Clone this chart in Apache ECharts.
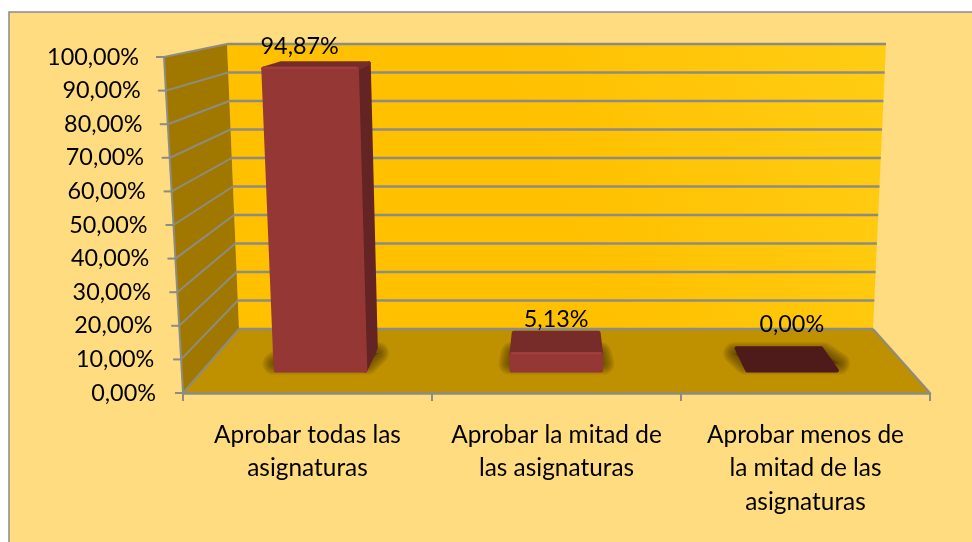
<!DOCTYPE html>
<html>
<head>
<meta charset="utf-8">
<style>
  html, body { margin: 0; padding: 0; background: #fff; }
  #chart { width: 972px; height: 542px; }
</style>
<script src="https://cdn.jsdelivr.net/npm/echarts@6/dist/echarts.min.js"></script>
</head>
<body>
<div id="chart"></div>
<script>
const categories = [
  'Aprobar todas las\nasignaturas',
  'Aprobar la mitad de\nlas asignaturas',
  'Aprobar menos de\nla mitad de las\nasignaturas'
]
const percentages = [94.87, 5.13, 0]
const yTicks = [0, 10, 20, 30, 40, 50, 60, 70, 80, 90, 100]

const fontFamily = 'Lato, "Open Sans", sans-serif'
const numberSize = 23.4
const categorySize = 24.4
const gridColor = '#8c8c84'
const labelNudge = [[-25, -17], [0, -13], [13, -24]]

// front plane is the echarts grid, everything else is pushed back with depth 0..1
function to3d(cs, x, y, d) {
  const v = (cs.y + cs.height - y) / cs.height
  const u = (x - cs.x) / cs.width
  const fx0 = cs.x - 19 * v
  const fx1 = cs.x + cs.width + 19 * v
  const bx0 = cs.x + 56 - 12 * v
  const bx1 = cs.x + cs.width - 57 + 13 * v
  const by = cs.y + cs.height - 64 - 285 * v
  const x0 = fx0 + (bx0 - fx0) * d
  const x1 = fx1 + (bx1 - fx1) * d
  return [x0 + (x1 - x0) * u, y + (by - y) * d]
}

function poly(points, fill, extra) {
  return { type: 'polygon', shape: { points }, style: Object.assign({ fill }, extra) }
}

function line(a, b, width) {
  return {
    type: 'line',
    shape: { x1: a[0], y1: a[1], x2: b[0], y2: b[1] },
    style: { stroke: gridColor, lineWidth: width }
  }
}

function renderWalls(params, api) {
  const cs = params.coordSys
  const tick = api.value(1)
  const y = api.coord([0, tick])[1]
  const left = cs.x
  const right = cs.x + cs.width
  const bottom = cs.y + cs.height
  const top = cs.y
  const children = []

  if (params.dataIndex === 0) {
    children.push(poly([
      to3d(cs, left, top, 1), to3d(cs, right, top, 1),
      to3d(cs, right, bottom, 1), to3d(cs, left, bottom, 1)
    ], new echarts.graphic.LinearGradient(1, 0, 0, 1, [
      { offset: 0, color: '#ffcd14' },
      { offset: 0.5, color: '#ffc000' },
      { offset: 1, color: '#ffc000' }
    ])))
    children.push(poly([
      to3d(cs, left, top, 0), to3d(cs, left, top, 1),
      to3d(cs, left, bottom, 1), to3d(cs, left, bottom, 0)
    ], '#a07800'))
    children.push(poly([
      to3d(cs, left, bottom, 0), to3d(cs, right, bottom, 0),
      to3d(cs, right, bottom, 1), to3d(cs, left, bottom, 1)
    ], '#bf9000'))
    children.push(line(to3d(cs, left, top, 0), to3d(cs, left, bottom, 0), 2))
    children.push(line(to3d(cs, right, bottom, 0), to3d(cs, right, bottom, 1), 2))
  }

  const front = to3d(cs, left, y, 0)
  children.push(line(front, to3d(cs, left, y, 1), 2))
  children.push(line(to3d(cs, left, y, 1), to3d(cs, right, y, 1), 2.5))
  children.push(line(front, [front[0] - 8, front[1]], 2))
  return { type: 'group', children }
}

function renderBar(params, api) {
  const cs = params.coordSys
  const i = api.value(0)
  const val = api.value(1)
  const c = api.coord([i, val])
  const base = api.coord([i, 0])
  const half = api.size([1, 0])[0] * 0.19
  const d0 = 0.35
  const d1 = 0.7
  const corner = { lineJoin: 'round', lineWidth: 4 }

  const fl = to3d(cs, base[0] - half, base[1], d0)
  const fr = to3d(cs, base[0] + half, base[1], d0)
  const bl = to3d(cs, base[0] - half, base[1], d1)
  const br = to3d(cs, base[0] + half, base[1], d1)
  const tfl = to3d(cs, c[0] - half, c[1], d0)
  const tfr = to3d(cs, c[0] + half, c[1], d0)
  const tbl = to3d(cs, c[0] - half, c[1], d1)
  const tbr = to3d(cs, c[0] + half, c[1], d1)

  // soft floor shadow, stacked see-through outlines of a footprint
  // that is wider than the bar and a bit shorter in depth
  const sfl = [fl[0] - 2, fl[1] - 7]
  const sfr = [fr[0] + 2, fr[1] - 7]
  const sbl = [bl[0] - 2, bl[1] + 5]
  const sbr = [br[0] + 2, br[1] + 5]
  const children = [22, 19, 16, 13, 10, 7, 4].map(w => poly([sfl, sfr, sbr, sbl], 'rgba(70,52,0,0.12)', {
    stroke: 'rgba(70,52,0,0.12)',
    lineWidth: w,
    lineJoin: 'round'
  }))

  if (val > 0) {
    // only a tall bar shows its side, the camera sits near the middle
    if (val > 50) {
      children.push(poly([fr, br, tbr, tfr], '#632423', Object.assign({ stroke: '#632423' }, corner)))
    }
    children.push(poly([tfl, tfr, tbr, tbl], '#772c2a', Object.assign({ stroke: '#772c2a' }, corner)))
    children.push(poly([fl, fr, tfr, tfl], '#953735', Object.assign({ stroke: '#953735' }, corner)))
    children.push({
      type: 'line',
      shape: { x1: tfl[0], y1: tfl[1] - 1, x2: tfr[0], y2: tfr[1] - 1 },
      style: { stroke: '#a33f3d', lineWidth: 2 }
    })
  } else {
    children.push(poly([fl, fr, br, bl], '#4f1a1a', Object.assign({ stroke: '#4f1a1a' }, corner)))
  }

  const mid = to3d(cs, c[0], c[1], d1)
  children.push({
    type: 'text',
    style: {
      x: mid[0] + labelNudge[i][0],
      y: mid[1] + labelNudge[i][1],
      text: val.toFixed(2).replace('.', ',') + '%',
      align: 'center',
      verticalAlign: 'middle',
      fontFamily,
      fontSize: numberSize,
      fill: '#000'
    }
  })
  return { type: 'group', children }
}

// right padding per tick so the labels follow the leaning wall
const tickRich = {}
yTicks.forEach(t => {
  tickRich['t' + t] = { padding: [0, t * 0.17, 0, 0], fontFamily, fontSize: numberSize, color: '#000' }
})

const chart = echarts.init(document.getElementById('chart'))
chart.setOption({
  animation: false,
  backgroundColor: '#fff',
  graphic: [{
    type: 'rect',
    z: -1,
    shape: { x: 9, y: 12, width: 1000, height: 600 },
    style: { fill: '#ffdc7f', stroke: '#8a8a8a', lineWidth: 1.5 }
  }],
  grid: { left: 183, top: 57, width: 747, height: 336 },
  xAxis: {
    type: 'category',
    data: categories,
    z: 3,
    axisLine: { lineStyle: { color: gridColor, width: 2.5 } },
    axisTick: { show: true, alignWithLabel: false, length: 8, lineStyle: { color: gridColor, width: 2 } },
    axisLabel: {
      interval: 0,
      margin: 25,
      fontFamily,
      fontSize: categorySize,
      lineHeight: 33.5,
      color: '#000'
    }
  },
  yAxis: {
    type: 'value',
    min: 0,
    max: 100,
    interval: 10,
    axisLine: { show: false },
    axisTick: { show: false },
    splitLine: { show: false },
    axisLabel: {
      margin: 27,
      formatter: v => '{t' + v + '|' + v.toFixed(2).replace('.', ',') + '%}',
      rich: tickRich
    }
  },
  series: [{
    type: 'custom',
    renderItem: renderWalls,
    encode: { x: 0, y: 1 },
    silent: true,
    z: 1,
    data: yTicks.map(t => [0, t])
  }, {
    type: 'custom',
    renderItem: renderBar,
    encode: { x: 0, y: 1 },
    z: 2,
    data: percentages.map((p, i) => [i, p])
  }]
})
</script>
</body>
</html>
